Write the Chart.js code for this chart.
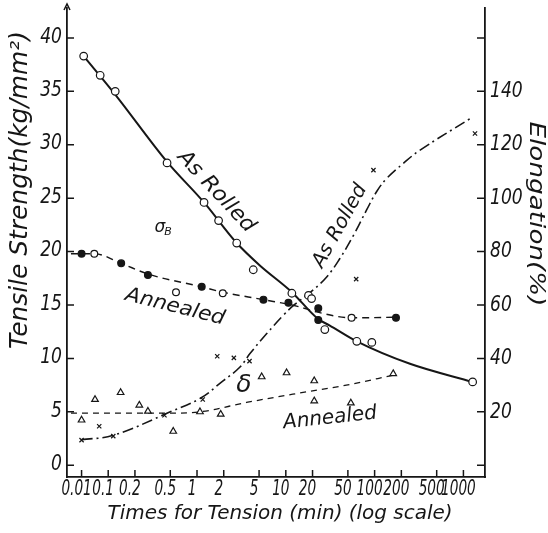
<!DOCTYPE html>
<html>
<head>
<meta charset="utf-8">
<title>Tensile strength and elongation vs. time for tension</title>
<script src="https://cdn.jsdelivr.net/npm/chart.js@4.4.1/dist/chart.umd.min.js"></script>
<style>
  body { margin: 0; background: #fff; }
  canvas { display: block; }
</style>
</head>
<body>
<canvas id="chart" width="548" height="533"></canvas>
<script>
// bottom axis (min), log scale
const timeTicks = [0.01, 0.1, 0.2, 0.5, 1, 2, 5, 10, 20, 50, 100, 200, 500, 1000];
const timeTickLabels = ["0.01", "0.1", "0.2", "0.5", "1", "2", "5", "10", "20", "50", "100", "200", "500", "1000"];
// left axis, tensile strength (kg/mm²)
const strengthTicks = [0, 5, 10, 15, 20, 25, 30, 35, 40];
const strengthTickLabels = ["0", "5", "10", "15", "20", "25", "30", "35", "40"];
// right axis, elongation (%)
const elongationTicks = [0, 20, 40, 60, 80, 100, 120, 140, 160];
const elongationTickLabels = ["", "20", "40", "60", "80", "100", "120", "140", ""];

// σB as rolled - measured points and drawn curve
const rolledStrengthTimes = [0.012, 0.05, 0.12, 0.46, 1.2, 1.75, 2.8, 4.3, 11.7, 18, 19.5, 27.5, 63, 93, 1270];
const rolledStrengthValues = [38.3, 36.5, 35.0, 28.3, 24.6, 22.9, 20.8, 18.3, 16.1, 15.9, 15.6, 12.7, 11.6, 11.5, 7.8];
const rolledStrengthCurveTimes = [0.012, 0.12, 0.46, 1.2, 2.8, 5.1, 11.7, 23, 31, 63, 250, 1270];
const rolledStrengthCurveValues = [38.3, 34.7, 28.4, 24.6, 20.8, 18.7, 16.2, 13.7, 13.1, 11.6, 9.5, 7.8];

// σB annealed - filled and open points, curve
const annealedStrengthTimes = [0.01, 0.14, 0.28, 1.13, 5.6, 10.7, 23.2, 23.2, 174];
const annealedStrengthValues = [19.8, 18.9, 17.8, 16.7, 15.5, 15.2, 14.7, 13.6, 13.8];
const annealedStrengthOpenTimes = [0.03, 0.58, 1.95, 55];
const annealedStrengthOpenValues = [19.8, 16.2, 16.1, 13.8];
const annealedStrengthCurveTimes = [0.004, 0.03, 0.14, 0.28, 1.13, 1.95, 5.6, 13.2, 22.3, 55, 174];
const annealedStrengthCurveValues = [19.8, 19.8, 18.9, 17.9, 16.7, 16.2, 15.5, 14.9, 14.35, 13.8, 13.85];

// δ as rolled (%)
const rolledElongationTimes = [0.01, 0.046, 0.114, 0.43, 1.16, 1.69, 2.6, 3.9, 62, 97, 1350];
const rolledElongationValues = [9.4, 14.6, 10.9, 18.7, 24.6, 40.8, 40.2, 39.0, 69.7, 110.5, 124.2];
const rolledElongationCurveTimes = [0.01, 0.114, 0.5, 1.08, 1.9, 3.05, 3.95, 6.1, 9.4, 12.7, 18.7, 28.7, 40.8, 57.6, 81, 106, 137, 210, 325, 1190];
const rolledElongationCurveValues = [9.6, 11.2, 20.0, 25.0, 31.2, 36.8, 41.8, 49.3, 56.2, 60.3, 64.6, 70.4, 77.5, 86.0, 95.5, 102.6, 107.4, 113, 118, 129.8];

// δ annealed (%)
const annealedElongationTimes = [0.01, 0.032, 0.138, 0.224, 0.28, 0.54, 1.08, 1.85, 5.35, 10.2, 20.9, 20.9, 54, 162];
const annealedElongationValues = [16.9, 24.6, 27.2, 22.5, 20.2, 12.7, 20.0, 19.1, 33.1, 34.6, 31.6, 24.1, 23.3, 34.3];
const annealedElongationCurveTimes = [0.004, 0.1, 0.43, 1.08, 3.6, 12, 48, 162];
const annealedElongationCurveValues = [19.5, 19.5, 19.5, 20.0, 23.5, 26.6, 30.0, 33.7];

const ink = "#161616";
const font = '"DejaVu Sans", "Liberation Sans", sans-serif';

// log10 of the time, but the 0.01-0.1 decade is squeezed like in the original plate
function axisPos(t) {
  const l = Math.log10(t);
  return l >= -1 ? l : -1 + (l + 1) * 0.3;
}

const pts = (times, values) => times.map((t, i) => ({ x: axisPos(t), y: values[i] }));

const curve = (label, times, values, axis, dash, width, smooth) => ({
  label,
  data: pts(times, values),
  yAxisID: axis,
  borderColor: ink,
  borderWidth: width,
  borderDash: dash,
  pointRadius: 0,
  cubicInterpolationMode: smooth ? "default" : "monotone",
  tension: smooth || 0,
  fill: false,
  order: 2,
});

const marks = (label, times, values, axis, style, radius, bg) => ({
  label,
  data: pts(times, values),
  yAxisID: axis,
  showLine: false,
  pointStyle: style,
  pointRadius: radius,
  pointBackgroundColor: bg,
  pointBorderColor: ink,
  pointBorderWidth: 1.2,
  order: 1,
});

// free text on the plate, placed in (time, strength) coordinates
const notes = [
  { text: "As Rolled", time: 1.64, strength: 25.6, angle: 47, size: 21, width: 104 },
  { text: "Annealed", time: 0.565, strength: 14.8, angle: 14, size: 20, width: 102 },
  { text: "As Rolled", time: 40.8, strength: 22.4, angle: -61, size: 20, width: 92 },
  { text: "Annealed", time: 31.5, strength: 4.4, angle: -6, size: 20, width: 94 },
  { text: "δ", time: 3.38, strength: 7.5, angle: 0, size: 25 },
];

function drawText(ctx, text, x, y, o) {
  ctx.save();
  ctx.translate(x, y);
  ctx.rotate(((o.angle || 0) * Math.PI) / 180);
  ctx.font = `italic ${o.size}px ${font}`;
  let k = o.squeeze || 1;
  if (o.width) k = o.width / ctx.measureText(text).width;
  ctx.scale(k, 1);
  ctx.textAlign = o.align || "center";
  ctx.textBaseline = "middle";
  ctx.fillText(text, 0, 0);
  ctx.restore();
}

const inkPlugin = {
  id: "ink",
  afterDatasetsDraw(chart) {
    const { ctx, chartArea: a } = chart;
    const { x, y, y2 } = chart.scales;
    ctx.save();
    ctx.strokeStyle = ink;
    ctx.fillStyle = ink;
    ctx.lineWidth = 1.5;

    // inward tick marks
    ctx.beginPath();
    timeTicks.forEach((t) => {
      const px = x.getPixelForValue(axisPos(t));
      ctx.moveTo(px, a.bottom);
      ctx.lineTo(px, a.bottom - 7);
    });
    strengthTicks.forEach((v) => {
      const py = y.getPixelForValue(v);
      ctx.moveTo(a.left, py);
      ctx.lineTo(a.left + 7, py);
    });
    elongationTicks.forEach((v) => {
      const py = y2.getPixelForValue(v);
      ctx.moveTo(a.right, py);
      ctx.lineTo(a.right - 8, py);
    });
    // small arrow head on top of the strength axis
    ctx.moveTo(a.left - 3, a.top + 2);
    ctx.lineTo(a.left, a.top - 4);
    ctx.lineTo(a.left + 3, a.top + 2);
    ctx.stroke();

    // tick labels, tall and narrow like the drafting lettering
    timeTicks.forEach((t, i) => {
      drawText(ctx, timeTickLabels[i], x.getPixelForValue(axisPos(t)) - 5, a.bottom + 12, { size: 22, squeeze: 0.62 });
    });
    strengthTicks.forEach((v, i) => {
      drawText(ctx, strengthTickLabels[i], a.left - 5, y.getPixelForValue(v) - 1, { size: 22, squeeze: 0.78, align: "right" });
    });
    elongationTicks.forEach((v, i) => {
      drawText(ctx, elongationTickLabels[i], a.right + 5, y2.getPixelForValue(v), { size: 22, squeeze: 0.78, align: "left" });
    });

    // axis titles
    drawText(ctx, "Tensile Strength(kg/mm²)", 21, 190, { size: 24, angle: -90, width: 318 });
    drawText(ctx, "Elongation(%)", 536, 214, { size: 22, angle: 90, width: 185 });
    drawText(ctx, "Times for Tension (min) (log scale)", 280, 514, { size: 20, width: 345 });

    // curve labels
    notes.forEach((n) => {
      drawText(ctx, n.text, x.getPixelForValue(axisPos(n.time)), y.getPixelForValue(n.strength), n);
    });
    const sx = x.getPixelForValue(axisPos(0.414));
    const sy = y.getPixelForValue(22.2);
    drawText(ctx, "σ", sx - 3, sy, { size: 17 });
    drawText(ctx, "B", sx + 5, sy + 4, { size: 11 });

    ctx.restore();
  },
};

const axisLine = { color: ink, width: 1.8 };

new Chart(document.getElementById("chart"), {
  type: "line",
  data: {
    datasets: [
      curve("σB as rolled", rolledStrengthCurveTimes, rolledStrengthCurveValues, "y", [], 2),
      curve("σB annealed", annealedStrengthCurveTimes, annealedStrengthCurveValues, "y", [7, 5], 1.4),
      curve("δ as rolled", rolledElongationCurveTimes, rolledElongationCurveValues, "y2", [11, 4, 2, 4], 1.6, 0.4),
      curve("δ annealed", annealedElongationCurveTimes, annealedElongationCurveValues, "y2", [6, 5], 1.3),
      marks("σB as rolled (measured)", rolledStrengthTimes, rolledStrengthValues, "y", "circle", 3.8, "#fff"),
      marks("σB annealed (measured)", annealedStrengthTimes, annealedStrengthValues, "y", "circle", 3.4, ink),
      marks("σB annealed (measured, open)", annealedStrengthOpenTimes, annealedStrengthOpenValues, "y", "circle", 3.4, "#fff"),
      marks("δ as rolled (measured)", rolledElongationTimes, rolledElongationValues, "y2", "crossRot", 3, ink),
      marks("δ annealed (measured)", annealedElongationTimes, annealedElongationValues, "y2", "triangle", 3.8, "#fff"),
    ],
  },
  options: {
    responsive: false,
    animation: false,
    devicePixelRatio: 1,
    layout: { padding: { top: 8, left: 0, right: 0, bottom: 0 } },
    plugins: { legend: { display: false }, tooltip: { enabled: false } },
    scales: {
      x: {
        type: "linear",
        // axis runs a little past 0.01 and 1000, as on the plate
        min: -1.464,
        max: 3.243,
        grid: { display: false },
        border: axisLine,
        ticks: { display: false },
        afterFit: (s) => { s.height = 56; },
      },
      y: {
        position: "left",
        min: -1.1,
        max: 42.8,
        grid: { display: false },
        border: axisLine,
        ticks: { display: false },
        afterFit: (s) => { s.width = 67; },
      },
      y2: {
        position: "right",
        min: -4.4,
        max: 171.2,
        grid: { display: false },
        border: axisLine,
        ticks: { display: false },
        afterFit: (s) => { s.width = 63; },
      },
    },
  },
  plugins: [inkPlugin],
});
</script>
</body>
</html>
